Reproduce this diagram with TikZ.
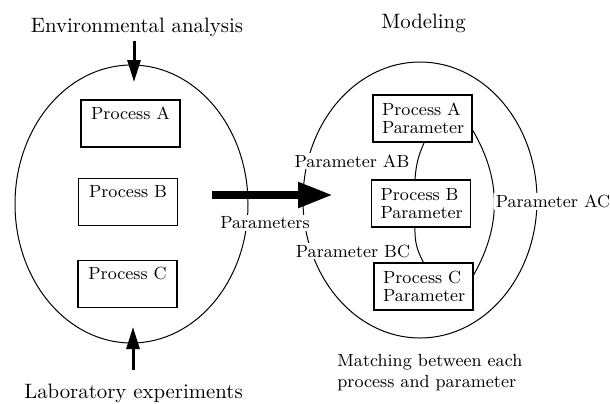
\documentclass[tikz,border=0pt]{standalone}
\usepackage{amsmath,amssymb}
\usepackage{tikz}
\usetikzlibrary{arrows.meta,calc,positioning,shapes.geometric}
\tikzset{
  proc_n/.style = {draw, rectangle, line width=0.6pt, inner sep=3pt,
  font=\fontsize{8.8}{9}\selectfont},
  proc_l/.style = {proc_n, align=center, text width=43.5pt, text height=6.5pt, text depth=11pt},
  proc_r/.style = {proc_n, align=left, text width=40.5pt, inner xsep=4.5pt, minimum height=23.5pt},
  tag/.style = {fill=white, inner sep=1pt, font=\fontsize{8.8}{10.5}\selectfont},
  head/.style = {inner sep=1pt, font=\fontsize{10.4}{12}\selectfont}
}

\begin{document}
\begin{tikzpicture}[x=0.5pt,y=-0.5pt,
            oval/.style={draw, ellipse, line width=0.5pt, inner sep=0pt},
            in_arrow/.style={line width=1.5pt, -{Triangle[length=11pt,width=6.5pt]}},
            big_arrow/.style={line width=4pt, -{Triangle[length=17.5pt,width=12pt]}},
            link/.style={line width=0.5pt}]
  \useasboundingbox (0,0) rectangle (610,403);

  % the two groups
  \node [oval, minimum width=116.5pt, minimum height=139pt] (lab) at (131.5,204) {};
  \node [oval, minimum width=117pt, minimum height=138pt] (model) at (420,200) {};

  % left side: processes
  \node [proc_l] (pa) at (130.5,123.5) {Process A};
  \node [proc_l] (pb) at (128,202) {Process B};
  \node [proc_l] (pc) at (127.5,284) {Process C};

  % right side: process parameters
  \node [proc_r] (qa) at (422.5,118.5) {Process A\\Parameter};
  \node [proc_r] (qb) at (421,203.5) {Process B\\Parameter};
  \node [proc_r] (qc) at (423.5,286.5) {Process C\\Parameter};

  \draw [link] (qa.-86) to[bend right=10] (qb.104);
  \draw [link] (qb.-104) to[bend right=15] (qc.90);
  \draw [link] (qa.-13) to[bend left=30] (qc.13);

  % headings
  \node [head] (env) at (137,27) {Environmental analysis};
  \node [head] (exp) at (133.5,393) {Laboratory experiments};
  \node [head] (mdl) at (423.5,23.5) {Modeling};
  \node [tag, fill=none, inner sep=0pt, align=left, anchor=north west] (match) at (337,354)
        {Matching between each\\process and parameter};

  % inputs and transfer
  \coordinate (env_tip) at (134,82);
  \coordinate (exp_tip) at (133,327);
  \draw [in_arrow] (env_tip |- 0,41) -- (env_tip);
  \draw [in_arrow] (exp_tip |- 0,370) -- (exp_tip);
  \coordinate (send) at (212,195);
  \coordinate (recv) at (333,195);
  \draw [big_arrow] (send) -- (recv);

  \node [tag] (par) at (265,223) {Parameters};
  \node [tag] (par_ab) at (352,161) {Parameter AB};
  \node [tag] (par_bc) at (353,251) {Parameter BC};
  \node [tag] (par_ac) at (553,201) {Parameter AC};
\end{tikzpicture}
\end{document}
